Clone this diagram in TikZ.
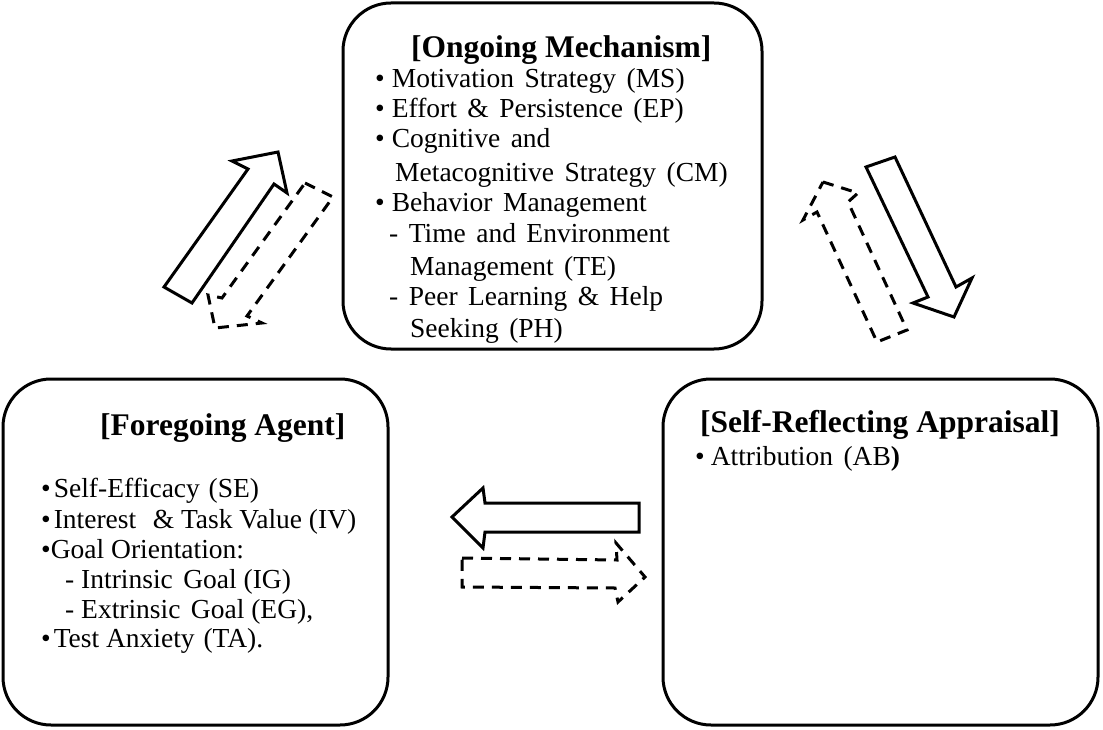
\documentclass[tikz,border=0pt]{standalone}
\usepackage{fontspec}
\setmainfont{Liberation Serif}
\newcommand{\bodyfnt}{\fontsize{27.5}{31}\selectfont\spaceskip=0.38em plus 0.1em minus 0.05em\relax}
\newcommand{\plainfnt}{\fontsize{27.5}{31}\selectfont}
\newcommand{\ttlfnt}{\fontsize{31.5}{36}\selectfont\bfseries}
\begin{document}
\begin{tikzpicture}[x=1pt,y=-1pt,
  box/.style={draw, line width=3pt, rounded corners=48pt, inner sep=0pt},
  blk/.style={draw, line width=3pt, line join=miter},
  dblk/.style={blk, dash pattern=on 11pt off 8pt},
  body/.style={anchor=base west, inner sep=0pt, font=\bodyfnt},
  plain/.style={anchor=base west, inner sep=0pt, font=\plainfnt},
  ttl/.style={anchor=base west, inner sep=0pt, font=\ttlfnt}]
\useasboundingbox (0,0) rectangle (1103,730);
% boxes
\node[box, minimum width=419pt, minimum height=346pt] (om) at (552.5,176) {};
\node[box, minimum width=385pt, minimum height=346pt] (fa) at (195.5,552) {};
\node[box, minimum width=435pt, minimum height=346pt] (sr) at (880.5,552) {};
% top box text
\node[ttl]  (omt) at (411,58) {[Ongoing Mechanism]};
\node[body] (om1) at (375,88)  {•\kern7pt Motivation Strategy (MS)};
\node[body] (om2) at (375,118) {•\kern7pt Effort \& Persistence (EP)};
\node[body] (om3) at (375,148) {•\kern7pt Cognitive and};
\node[body] (om4) at (395,182) {Metacognitive Strategy (CM)};
\node[body] (om5) at (375,212) {•\kern7pt Behavior Management};
\node[body] (om6) at (389,243) {- Time and Environment};
\node[body] (om7) at (410,275) {Management (TE)};
\node[body] (om8) at (389,305) {- Peer Learning \& Help};
\node[body] (om9) at (410,337) {Seeking (PH)};
% left box text
\node[ttl]   (fat) at (100,435) {[Foregoing Agent]};
\node[plain] (fa1) at (41,497) {•\kern3pt Self-Efficacy\hspace{0.32em}(SE)};
\node[plain] (fa2) at (41,528) {•\kern3pt Interest\hspace{0.6em}\& Task Value (IV)};
\node[plain] (fa3) at (41,558) {•Goal Orientation:};
\node[plain] (fa4) at (65,588) {- Intrinsic\hspace{0.38em}Goal (IG)};
\node[plain] (fa5) at (65,618) {- Extrinsic\hspace{0.38em}Goal (EG),};
\node[plain] (fa6) at (41,647) {•\kern3pt Test Anxiety\hspace{0.32em}(TA).};
% right box text
\node[ttl]  (srt) at (700,432) {[Self-Reflecting Appraisal]};
\node[body] (sr1) at (695,465) {•\kern6pt Attribution (AB\textbf{)}};
% block arrows
\draw[blk]  (164,287) -- (192,303) -- (274,184) -- (287,193) -- (278,152) -- (232,161) -- (248,169) -- cycle;
\draw[dblk] (305,183) -- (333,197) -- (247,316) -- (262,323) -- (215,328) -- (208,295) -- (222,298) -- cycle;
\draw[blk]  (866,167) -- (895,157) -- (956,287) -- (972,278) -- (954,317) -- (913,303) -- (928,297) -- cycle;
\draw[dblk] (823,182) -- (858,193) -- (848,202) -- (907,330) -- (877,342) -- (817,212) -- (803,220) -- cycle;
\draw[blk]  (452,517) -- (483,488) -- (485,503) -- (639,503) -- (639,532) -- (485,532) -- (483,548) -- cycle;
\draw[dblk] (462,558) -- (617,560) -- (616,543) -- (645,577) -- (618,602) -- (615,588) -- (462,587) -- cycle;
\end{tikzpicture}
\end{document}
